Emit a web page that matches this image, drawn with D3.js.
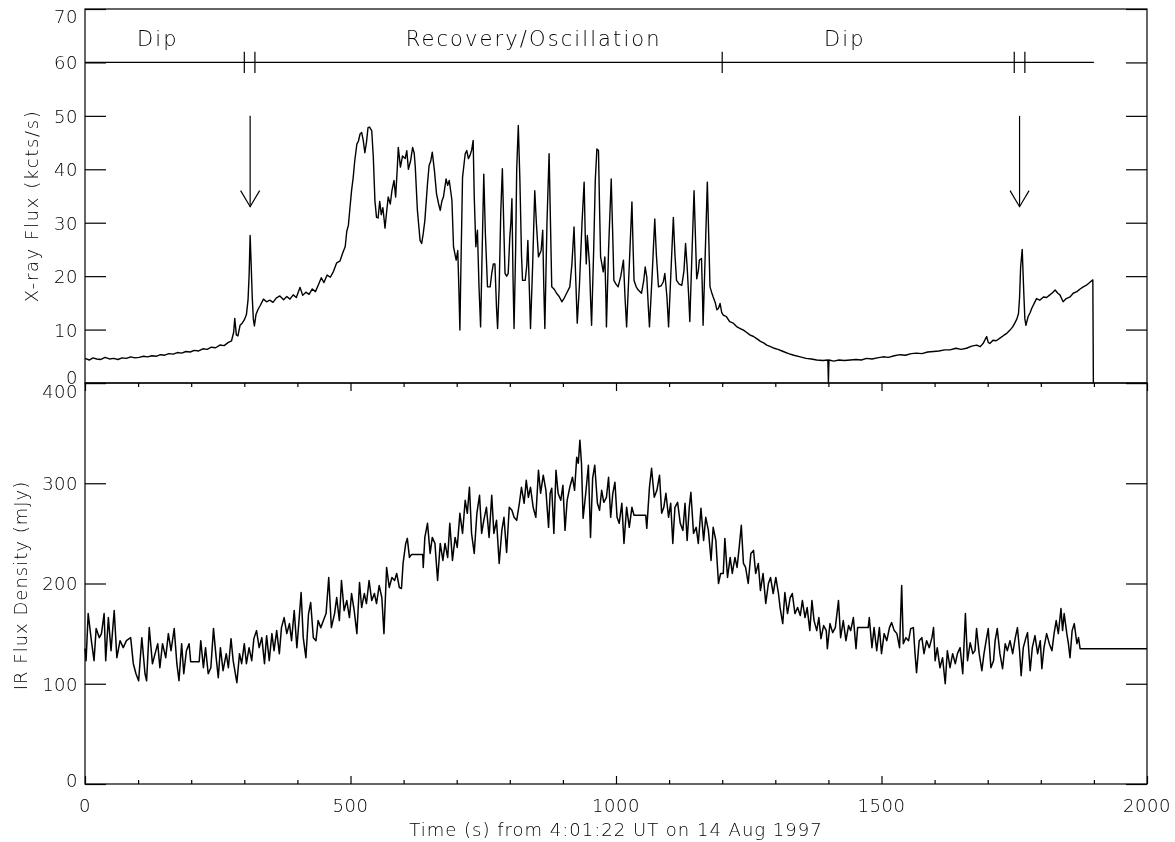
<!DOCTYPE html>
<html><head><meta charset="utf-8">
<script src="https://cdn.jsdelivr.net/npm/d3@7"></script>
<style>
html,body{margin:0;padding:0;background:#fff;}
svg{will-change:transform;}
svg text{font-family:"DejaVu Sans",sans-serif;font-weight:200;fill:#000;}
</style></head>
<body><svg id="chart" width="1175" height="842"></svg>
<script>
// ---------------- DATA ----------------
const xrayData = [[0,4.6],[8,4.3],[15,4.7],[22,4.5],[30,4.4],[38,4.8],[46,4.5],[54,4.6],[62,4.4],[70,4.7],[78,4.6],[86,4.9],[94,4.7],[102,4.8],[110,5.0],[118,4.9],[126,5.1],[134,5.0],[142,5.3],[150,5.2],[158,5.5],[166,5.4],[174,5.7],[182,5.6],[190,5.9],[198,5.8],[206,6.1],[214,6.0],[222,6.4],[230,6.3],[238,6.7],[246,6.6],[254,7.1],[262,7.0],[270,7.6],[276,7.9],[280,9.5],[282,12.1],[285,9.0],[288,8.8],[292,10.8],[296,11.2],[300,11.8],[304,12.8],[307,15.5],[309,20],[311,27.6],[313,22],[315,16],[317,12],[319,10.7],[322,12.8],[326,13.8],[330,14.5],[336,15.7],[342,15.2],[348,15.5],[354,15.1],[360,15.9],[367,16.3],[374,15.6],[380,16.2],[386,15.7],[392,16.5],[398,16.0],[405,17.9],[410,16.4],[416,17.0],[422,16.6],[428,17.6],[434,17.1],[440,18.5],[445,19.7],[450,18.8],[456,20.2],[462,19.8],[468,20.9],[474,22.5],[480,22.8],[486,24.5],[490,25.5],[493,28.4],[496,29.5],[499,32.8],[502,36],[505,38.4],[508,41.6],[512,44.7],[515,45.3],[518,46.6],[521,46.9],[524,45.4],[527,43.1],[530,45],[533,47.8],[536,47.9],[540,47.2],[543,42.2],[546,34.1],[549,31],[552,30.9],[555,34],[558,31.5],[561,32.8],[565,29],[568,32],[571,34.8],[575,33.5],[578,36],[582,37.9],[585,34.8],[588,40],[590,44.1],[594,40.4],[598,42.5],[603,42],[606,43.5],[609,40],[613,41.5],[617,44.1],[620,43],[622,40.4],[626,32.3],[631,26.7],[634,26.1],[637,28],[640,30.4],[645,37.3],[648,40.7],[651,41.5],[654,43.2],[658,39.8],[662,35.4],[666,33.5],[669,32.3],[672,34],[675,34.8],[680,38.2],[683,37],[686,37.9],[691,34.2],[694,25.5],[697,24],[699,23],[702,24.8],[704,18],[706,9.9],[708,22],[711,38.5],[716,42.9],[719,43.5],[722,42],[725,42.6],[728,43.5],[731,45.4],[733,35],[736,25.5],[739,28.6],[742,18],[745,10.5],[748,25],[751,39.1],[754,28],[758,18],[763,18],[766,20.5],[769,22.3],[772,22.3],[775,14],[777,10.2],[780,18],[783,32],[786,40.1],[789,28],[791,20.5],[794,20],[797,20.5],[800,27.3],[802,30],[804,34.5],[806,20],[808,10.2],[811,25],[813,40],[816,48.2],[819,38],[822,24],[824,19.2],[829,19.2],[832,22],[834,26.7],[837,17],[839,10.2],[843,22],[847,36],[850,30],[854,23.6],[859,24.8],[862,28.6],[864,18],[866,10.2],[870,30],[874,42.9],[877,28],[879,18],[884,17.5],[888,16.8],[893,16.2],[898,15.2],[903,16.0],[907,16.8],[913,18],[917,22.3],[921,29.2],[924,20],[927,11.2],[931,18],[936,30],[940,37.6],[942,28],[944,22.3],[946,27.6],[950,22.3],[952,16],[954,10.8],[958,25],[961,38],[964,43.8],[967,43.5],[969,33],[971,23.6],[976,20.8],[979,23.6],[981,16],[982,10.5],[986,25],[991,38.2],[994,27],[996,19.2],[1000,18.5],[1004,18],[1009,20],[1014,23],[1017,16],[1020,10.5],[1025,22],[1030,33.9],[1032,26],[1034,19.2],[1038,18],[1042,17.4],[1048,16.8],[1052,19],[1055,21.7],[1058,19.8],[1061,14],[1063,10.5],[1068,20],[1073,30.7],[1076,24],[1080,18],[1085,18.2],[1089,18.9],[1092,20.5],[1096,16],[1099,10.5],[1104,22],[1108,31],[1111,24],[1114,19.2],[1119,18.5],[1124,18.3],[1128,21],[1131,26.1],[1134,21.7],[1137,16],[1139,11.5],[1143,24],[1147,36],[1150,26],[1152,19.5],[1155,21],[1157,23],[1161,23.3],[1163,16],[1164,10.8],[1168,24],[1172,37.6],[1175,26],[1177,18],[1180,17],[1183,16.1],[1187,15],[1190,13.7],[1193,14],[1196,14.9],[1199,13.2],[1202,12.7],[1208,12.4],[1214,11.5],[1221,11.2],[1228,10.5],[1234,10.2],[1240,9.9],[1247,9.4],[1252,9.0],[1259,8.7],[1265,8.3],[1272,7.8],[1278,7.5],[1284,7.1],[1291,6.8],[1298,6.5],[1305,6.3],[1315,5.9],[1325,5.5],[1335,5.2],[1347,4.9],[1358,4.6],[1368,4.5],[1378,4.3],[1390,4.2],[1399,4.3],[1400,0],[1401,4.3],[1410,4.1],[1420,4.3],[1430,4.2],[1441,4.3],[1452,4.4],[1462,4.3],[1472,4.6],[1482,4.5],[1492,4.7],[1503,4.9],[1513,4.8],[1524,5.1],[1535,5.3],[1545,5.2],[1556,5.5],[1566,5.6],[1576,5.5],[1587,5.8],[1598,5.9],[1608,6.0],[1619,6.2],[1629,6.2],[1640,6.5],[1650,6.3],[1660,6.5],[1670,6.9],[1679,7.1],[1686,6.8],[1692,7.5],[1698,8.7],[1701,7.6],[1704,7.4],[1710,8.0],[1716,7.9],[1723,8.4],[1730,8.9],[1736,9.3],[1742,9.9],[1747,10.5],[1751,11.2],[1755,12.0],[1758,13],[1760,16],[1762,21.7],[1765,25],[1768,16.8],[1770,12],[1772,10.8],[1776,12.4],[1780,13.2],[1783,14],[1788,15.0],[1792,15.8],[1798,15.5],[1805,16.1],[1811,16.0],[1817,16.5],[1822,16.9],[1827,17.4],[1832,16.8],[1836,16.5],[1842,15.2],[1848,15.8],[1855,16.1],[1861,16.8],[1868,17.1],[1874,17.6],[1880,18],[1886,18.3],[1893,18.9],[1898,19.3],[1899,0]];

const irData = [[0,135],[2,123],[6,170],[12,143],[17,123],[21,155],[27,146],[31,150],[36,170],[39,123],[44,166],[49,133],[55,173],[60,126],[66,143],[72,136],[78,143],[86,146],[91,120],[96,110],[101,103],[107,146],[113,110],[116,103],[121,156],[127,120],[132,130],[137,140],[141,116],[146,140],[152,126],[157,150],[162,133],[168,155],[173,120],[177,103],[182,140],[186,110],[191,133],[196,140],[199,122],[215,122],[218,143],[223,116],[227,136],[232,110],[237,116],[242,155],[247,126],[251,106],[255,136],[260,113],[266,130],[270,116],[275,145],[279,123],[286,101],[291,130],[295,120],[300,140],[304,120],[309,136],[314,123],[318,145],[323,153],[328,136],[333,146],[338,120],[342,148],[347,123],[352,150],[356,133],[361,153],[366,130],[370,156],[375,166],[380,150],[385,160],[389,143],[394,173],[399,136],[403,163],[407,191],[411,146],[416,126],[421,170],[425,181],[430,146],[435,143],[439,163],[444,156],[449,163],[454,170],[459,206],[464,156],[470,170],[474,186],[479,163],[483,203],[488,173],[493,183],[498,166],[502,190],[507,173],[512,150],[517,201],[521,176],[526,190],[530,180],[535,203],[540,183],[545,190],[549,180],[554,198],[559,186],[563,150],[568,216],[573,196],[578,206],[583,203],[587,210],[592,196],[596,195],[599,220],[604,240],[607,245],[611,226],[615,229],[636,229],[637,216],[640,246],[645,260],[650,230],[654,246],[659,240],[664,203],[669,240],[674,223],[678,240],[683,226],[687,260],[692,223],[697,246],[701,236],[706,270],[711,250],[716,283],[720,270],[724,296],[728,250],[733,230],[738,270],[743,288],[747,250],[751,263],[756,276],[761,246],[766,288],[770,250],[775,263],[780,220],[785,253],[789,266],[794,231],[799,276],[804,273],[808,266],[813,263],[818,280],[822,296],[827,280],[831,303],[835,286],[839,296],[844,276],[849,266],[854,313],[858,290],[863,308],[868,293],[873,256],[876,290],[879,295],[883,250],[887,313],[891,290],[896,283],[900,298],[904,253],[908,283],[913,296],[918,306],[922,293],[926,326],[929,320],[932,343],[935,320],[938,265],[943,290],[948,318],[952,246],[956,305],[960,318],[965,280],[969,273],[973,293],[977,281],[982,286],[986,306],[990,266],[994,290],[998,301],[1002,266],[1006,260],[1011,280],[1015,240],[1020,276],[1025,256],[1030,276],[1034,268],[1056,268],[1058,255],[1063,296],[1067,315],[1072,286],[1077,293],[1082,308],[1086,270],[1090,276],[1094,290],[1099,266],[1103,280],[1107,240],[1111,276],[1116,281],[1121,260],[1126,253],[1130,280],[1134,243],[1138,276],[1141,291],[1146,250],[1151,256],[1155,240],[1160,275],[1165,243],[1169,266],[1174,253],[1179,223],[1183,256],[1188,243],[1193,200],[1197,210],[1202,210],[1205,245],[1210,206],[1215,226],[1219,210],[1224,226],[1228,216],[1232,236],[1236,258],[1240,220],[1244,216],[1249,200],[1254,230],[1259,233],[1263,210],[1268,220],[1272,193],[1277,210],[1282,180],[1287,200],[1291,206],[1296,190],[1301,206],[1306,190],[1309,176],[1314,160],[1318,191],[1323,170],[1328,186],[1332,190],[1337,170],[1342,176],[1347,168],[1351,183],[1356,166],[1360,176],[1365,153],[1369,183],[1373,163],[1378,153],[1382,166],[1386,145],[1391,158],[1396,153],[1398,135],[1403,160],[1408,151],[1413,156],[1419,183],[1423,146],[1428,163],[1433,143],[1438,158],[1442,153],[1447,166],[1452,135],[1455,156],[1475,156],[1477,166],[1482,136],[1486,156],[1491,133],[1496,156],[1500,130],[1505,150],[1510,143],[1515,156],[1519,161],[1524,153],[1529,150],[1534,136],[1538,198],[1541,140],[1546,146],[1551,143],[1555,155],[1560,156],[1563,131],[1566,111],[1571,143],[1576,146],[1580,130],[1585,143],[1590,136],[1595,146],[1598,156],[1601,123],[1605,136],[1610,116],[1615,126],[1620,100],[1624,133],[1629,116],[1634,130],[1639,120],[1643,130],[1648,136],[1653,110],[1658,170],[1662,123],[1667,141],[1672,130],[1676,133],[1679,155],[1684,130],[1689,113],[1693,130],[1698,146],[1701,155],[1706,116],[1711,123],[1714,143],[1718,155],[1723,130],[1728,115],[1733,140],[1737,133],[1742,143],[1747,130],[1752,146],[1756,156],[1760,133],[1763,108],[1767,136],[1772,146],[1775,151],[1780,113],[1784,136],[1789,148],[1794,130],[1799,143],[1802,115],[1806,136],[1811,150],[1816,140],[1821,133],[1825,150],[1829,163],[1833,150],[1838,175],[1841,153],[1844,170],[1849,150],[1852,140],[1855,126],[1859,153],[1863,160],[1868,140],[1871,146],[1874,135],[2000,135]];

const xMajorTicks = [0, 500, 1000, 1500, 2000];
const xMinorTicks = [100,200,300,400,600,700,800,900,1100,1200,1300,1400,1600,1700,1800,1900];
const xrayTicks = [0, 10, 20, 30, 40, 50, 60, 70];
const irTicks = [0, 100, 200, 300, 400];
const phaseNames = ["Dip", "Recovery/Oscillation", "Dip"];
const phaseCenters = [137, 845, 1431];
const phaseMarks = [300, 320, 1200, 1750, 1770];
const phaseLevel = [60];
const phaseEnd = [1900];
const arrowTimes = [311, 1760];
const arrowFrom = [50];
const arrowTo = [33];

const xLabel = "Time (s) from 4:01:22 UT on 14 Aug 1997";
const yTopLabel = "X-ray Flux (kcts/s)";
const yBotLabel = "IR Flux Density (mJy)";

// ---------------- CHART ----------------
const svg = d3.select("#chart");
const L = 85, R = 1147;
const x = d3.scaleLinear().domain([0, 2000]).range([L, R]);
const yTop = d3.scaleLinear().domain([0, 70]).range([383, 9]);
const yBot = d3.scaleLinear().domain([0, 400]).range([784, 383]);

const SW = 1.2;
const FS = 18;

// frames
function frame(y0, y1) {
  svg.append("rect").attr("x", L).attr("y", y0).attr("width", R - L).attr("height", y1 - y0)
    .attr("fill", "none").attr("stroke", "#000").attr("stroke-width", SW);
}
frame(yTop.range()[1], yTop.range()[0]);
frame(yBot.range()[1], yBot.range()[0]);

// y axes
function yAxes(scale, ticks, endShift) {
  const gl = svg.append("g").attr("transform", `translate(${L},0)`)
    .call(d3.axisLeft(scale).tickValues(ticks).tickSize(-21).tickPadding(7).tickFormat(d3.format("d")));
  gl.select(".domain").remove();
  gl.selectAll("line").attr("stroke-width", SW);
  gl.selectAll("text").style("font-size", FS + "px").style("letter-spacing", "0.5px").attr("dy", d => endShift(d));
  const gr = svg.append("g").attr("transform", `translate(${R},0)`)
    .call(d3.axisRight(scale).tickValues(ticks).tickSize(-21).tickFormat(""));
  gr.select(".domain").remove();
  gr.selectAll("line").attr("stroke-width", SW);
}
yAxes(yTop, xrayTicks, d => d === 70 ? "0.75em" : (d === 0 ? "0.05em" : "0.36em"));
yAxes(yBot, irTicks, d => d === 400 ? "0.82em" : (d === 0 ? "0.12em" : "0.36em"));

// x ticks on bottom panel (top and bottom edges)
function xTicks(vals, len) {
  const gb = svg.append("g").attr("transform", `translate(0,${yBot.range()[0]})`)
    .call(d3.axisBottom(x).tickValues(vals).tickSize(-len).tickFormat(""));
  gb.select(".domain").remove();
  gb.selectAll("line").attr("stroke-width", SW);
  const gt = svg.append("g").attr("transform", `translate(0,${yBot.range()[1]})`)
    .call(d3.axisTop(x).tickValues(vals).tickSize(-len).tickFormat(""));
  gt.select(".domain").remove();
  gt.selectAll("line").attr("stroke-width", SW);
}
xTicks(xMinorTicks, 4);
xTicks(xMajorTicks, 8);

// x tick labels
svg.append("g").selectAll("text").data(xMajorTicks).join("text")
  .attr("x", d => x(d)).attr("y", 812)
  .attr("text-anchor", "middle").style("font-size", FS + "px").style("letter-spacing", "0.5px")
  .text(d => d);

// axis titles
svg.append("text").attr("x", x(1000)).attr("y", 836).attr("text-anchor", "middle")
  .style("font-size", FS + "px").style("letter-spacing", "1px").text(xLabel);
svg.append("text").attr("transform", `translate(38,${(yTop(0) + yTop(70)) / 2 + 10}) rotate(-90)`)
  .attr("text-anchor", "middle").style("font-size", FS + "px").style("letter-spacing", "1.6px").text(yTopLabel);
svg.append("text").attr("transform", `translate(27,${(yBot(0) + yBot(400)) / 2 + 2}) rotate(-90)`)
  .attr("text-anchor", "middle").style("font-size", FS + "px").style("letter-spacing", "1px").text(yBotLabel);

// data lines
const lineTop = d3.line().x(d => x(d[0])).y(d => yTop(d[1]));
const lineBot = d3.line().x(d => x(d[0])).y(d => yBot(d[1]));
svg.append("path").datum(xrayData).attr("d", lineTop).attr("fill", "none")
  .attr("stroke", "#000").attr("stroke-width", 1.4).attr("stroke-linejoin", "round");
svg.append("path").datum(irData).attr("d", lineBot).attr("fill", "none")
  .attr("stroke", "#000").attr("stroke-width", 1.5).attr("stroke-linejoin", "round");

// phase annotation line, marks and labels
svg.append("line").attr("x1", x(0)).attr("x2", x(phaseEnd[0]))
  .attr("y1", yTop(phaseLevel[0])).attr("y2", yTop(phaseLevel[0]))
  .attr("stroke", "#000").attr("stroke-width", SW);
svg.append("g").selectAll("line").data(phaseMarks).join("line")
  .attr("x1", d => x(d)).attr("x2", d => x(d))
  .attr("y1", yTop(phaseLevel[0] - 2)).attr("y2", yTop(phaseLevel[0] + 2))
  .attr("stroke", "#000").attr("stroke-width", SW);
svg.append("g").selectAll("text").data(phaseNames).join("text")
  .attr("x", (d, i) => x(phaseCenters[i])).attr("y", yTop(63))
  .attr("text-anchor", "middle").style("font-size", "21px").style("letter-spacing", "2.1px")
  .text(d => d);

// arrows
const ag = svg.append("g").attr("stroke", "#000").attr("stroke-width", SW).attr("fill", "none");
arrowTimes.forEach(t => {
  ag.append("line").attr("x1", x(t)).attr("x2", x(t)).attr("y1", yTop(arrowFrom[0])).attr("y2", yTop(arrowTo[0]));
  ag.append("path").attr("d", d3.line()([
    [x(t) - 9.5, yTop(arrowTo[0] + 3)], [x(t), yTop(arrowTo[0])], [x(t) + 9.5, yTop(arrowTo[0] + 3)]
  ]));
});
</script></body></html>
